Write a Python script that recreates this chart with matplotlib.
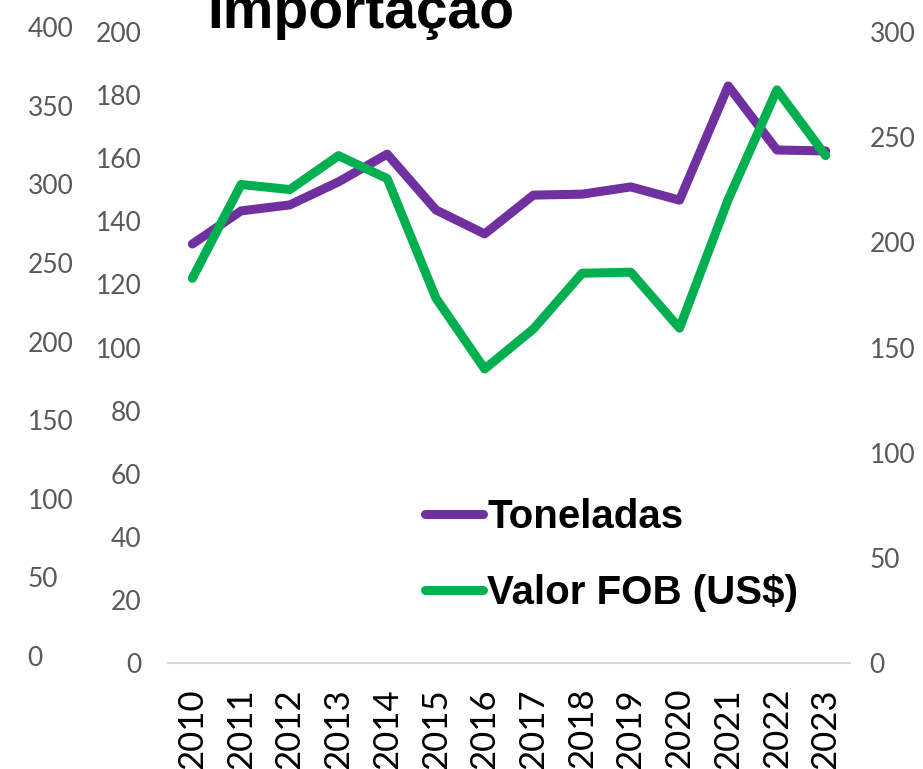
import matplotlib
matplotlib.use("Agg")
import matplotlib.pyplot as plt

matplotlib.rcParams['font.family'] = ['Lato', 'DejaVu Sans']

# ==================== 数据 ====================

anos = ["2010", "2011", "2012", "2013", "2014", "2015", "2016",
        "2017", "2018", "2019", "2020", "2021", "2022", "2023"]
toneladas = [132.8, 143.3, 145.2, 152.5, 161.3, 143.6, 136.0,
             148.3, 148.6, 150.9, 146.7, 182.9, 162.6, 162.3]
valor_fob = [182.9, 227.5, 225.1, 241.2, 230.3, 173.5, 139.8,
             158.8, 185.3, 185.8, 159.2, 220.4, 272.5, 241.2]

ticks_esq_ext = [0, 50, 100, 150, 200, 250, 300, 350, 400]
ticks_esq = [0, 20, 40, 60, 80, 100, 120, 140, 160, 180, 200]
ticks_dir = [0, 50, 100, 150, 200, 250, 300]

ROXO = "#7030A0"
VERDE = "#00B050"
CINZA = "#595959"

W, H = 923, 769
fig = plt.figure(figsize=(W / 100, H / 100), dpi=100)

x0, x1 = 168 / W, 850 / W
ax = fig.add_axes([x0, 1 - 663 / H, x1 - x0, (663 - 32) / H])
ax2 = ax.twinx()
ax3 = fig.add_axes([x0, 1 - 656 / H, x1 - x0, (656 - 27) / H])
ax3.patch.set_alpha(0)

xs = list(range(len(anos)))
l1, = ax.plot(xs, toneladas, color=ROXO, lw=6.5, solid_capstyle='round',
              solid_joinstyle='round', label="Toneladas", zorder=3)
l2, = ax2.plot(xs, valor_fob, color=VERDE, lw=6.5, solid_capstyle='round',
               solid_joinstyle='round', label="Valor FOB (US$)", zorder=3)

ax.set_xlim(-0.5, len(anos) - 0.5)
ax.set_ylim(0, 200)
ax2.set_ylim(0, 300)
ax3.set_ylim(0, 400)
ax3.set_xlim(ax.get_xlim())

for a in (ax, ax2, ax3):
    for s in a.spines.values():
        s.set_visible(False)
ax.spines['bottom'].set_visible(True)
ax.spines['bottom'].set_color("#D9D9D9")
ax.spines['bottom'].set_linewidth(1.5)

ax.set_xticks(xs)
ax.set_xticklabels(anos, rotation=90, fontsize=25, color="black")
ax.tick_params(axis='x', length=0, pad=18)

ax.set_yticks(ticks_esq)
ax.set_yticklabels([str(t) for t in ticks_esq], fontsize=19, color=CINZA)
ax.tick_params(axis='y', length=0, pad=19)

ax2.set_yticks(ticks_dir)
ax2.set_yticklabels([str(t) for t in ticks_dir], fontsize=19, color=CINZA)
ax2.tick_params(axis='y', length=0, pad=14)

ax3.set_xticks([])
ax3.set_yticks(ticks_esq_ext)
ax3.set_yticklabels([str(t) for t in ticks_esq_ext], fontsize=19, color=CINZA)
ax3.tick_params(axis='y', length=0, pad=101)
for lb in ax3.get_yticklabels():
    lb.set_horizontalalignment('left')

# título cortado no topo, como no original
fig.text(361 / W, 1 - 28 / H, "Importação", ha='center', va='baseline',
         fontsize=41, fontweight='bold', family='Liberation Sans', color='black')

leg = fig.legend(handles=[l1, l2], loc='upper left',
                 bbox_to_anchor=(425 / W, 1 - 498 / H), frameon=False,
                 prop={'family': 'Liberation Sans', 'weight': 'bold', 'size': 29},
                 handlelength=1.45, handletextpad=0.1, labelspacing=0.95,
                 borderpad=0, borderaxespad=0)

plt.savefig("out.png", dpi=100)
plt.close()
